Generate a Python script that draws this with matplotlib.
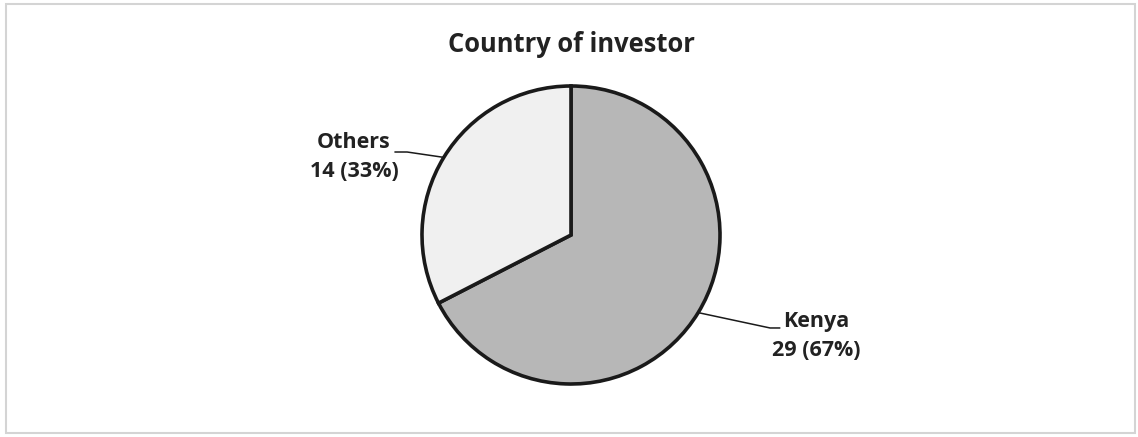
import numpy as np
import matplotlib
matplotlib.use("Agg")
from matplotlib import pyplot as plt
from matplotlib.patches import Rectangle

# data
categories = ["Kenya", "Others"]
counts = [29, 14]
colors = ["#b7b7b7", "#f0f0f0"]
title = "Country of investor"

W, H = 1138, 437
plt.rcParams["font.family"] = ["Open Sans", "DejaVu Sans"]
fig = plt.figure(figsize=(W / 100, H / 100), dpi=100)
fig.patch.set_facecolor("white")

# light frame round the chart
fig.patches.append(Rectangle((6 / W, 4 / H), 1129 / W, 429 / H, transform=fig.transFigure,
                             fill=False, edgecolor="#d4d4d4", linewidth=1.5))

# pie placed with centre at (571, 235) px, radius 149 px
cx, cy, r = 571, 235, 149
ax = fig.add_axes([(cx - r) / W, (H - cy - r) / H, 2 * r / W, 2 * r / H])
wedges, _ = ax.pie(counts, colors=colors, startangle=90, counterclock=False,
                   wedgeprops=dict(edgecolor="#1a1a1a", linewidth=2.6))
ax.set_xlim(-1, 1)
ax.set_ylim(-1, 1)
ax.set_aspect("equal")
ax.axis("off")

total = sum(counts)
txtcol = "#222222"
# label layout: (text pos, elbow, end of line) in units of radius
layout = {
    "Kenya": dict(text=(1.644, -0.68), elbow=(1.336, -0.624), end=(1.40, -0.624)),
    "Others": dict(text=(-1.456, 0.523), elbow=(-1.10, 0.557), end=(-1.18, 0.557)),
}
for w, cat, n in zip(wedges, categories, counts):
    mid = np.deg2rad((w.theta1 + w.theta2) / 2)
    edge = (np.cos(mid), np.sin(mid))
    L = layout[cat]
    ax.plot([edge[0], L["elbow"][0], L["end"][0]], [edge[1], L["elbow"][1], L["end"][1]],
            color="#1a1a1a", linewidth=1.1, clip_on=False)
    ax.text(L["text"][0], L["text"][1], f"{cat}\n{n} ({n / total:.0%})", ha="center", va="center",
            fontsize=15.5, fontweight="bold", color=txtcol, linespacing=1.5, clip_on=False)

fig.text(cx / W, 1 - 45 / H, title, ha="center", va="center", fontsize=18.4,
         fontweight="bold", color=txtcol)

fig.savefig("out.png", dpi=100)
